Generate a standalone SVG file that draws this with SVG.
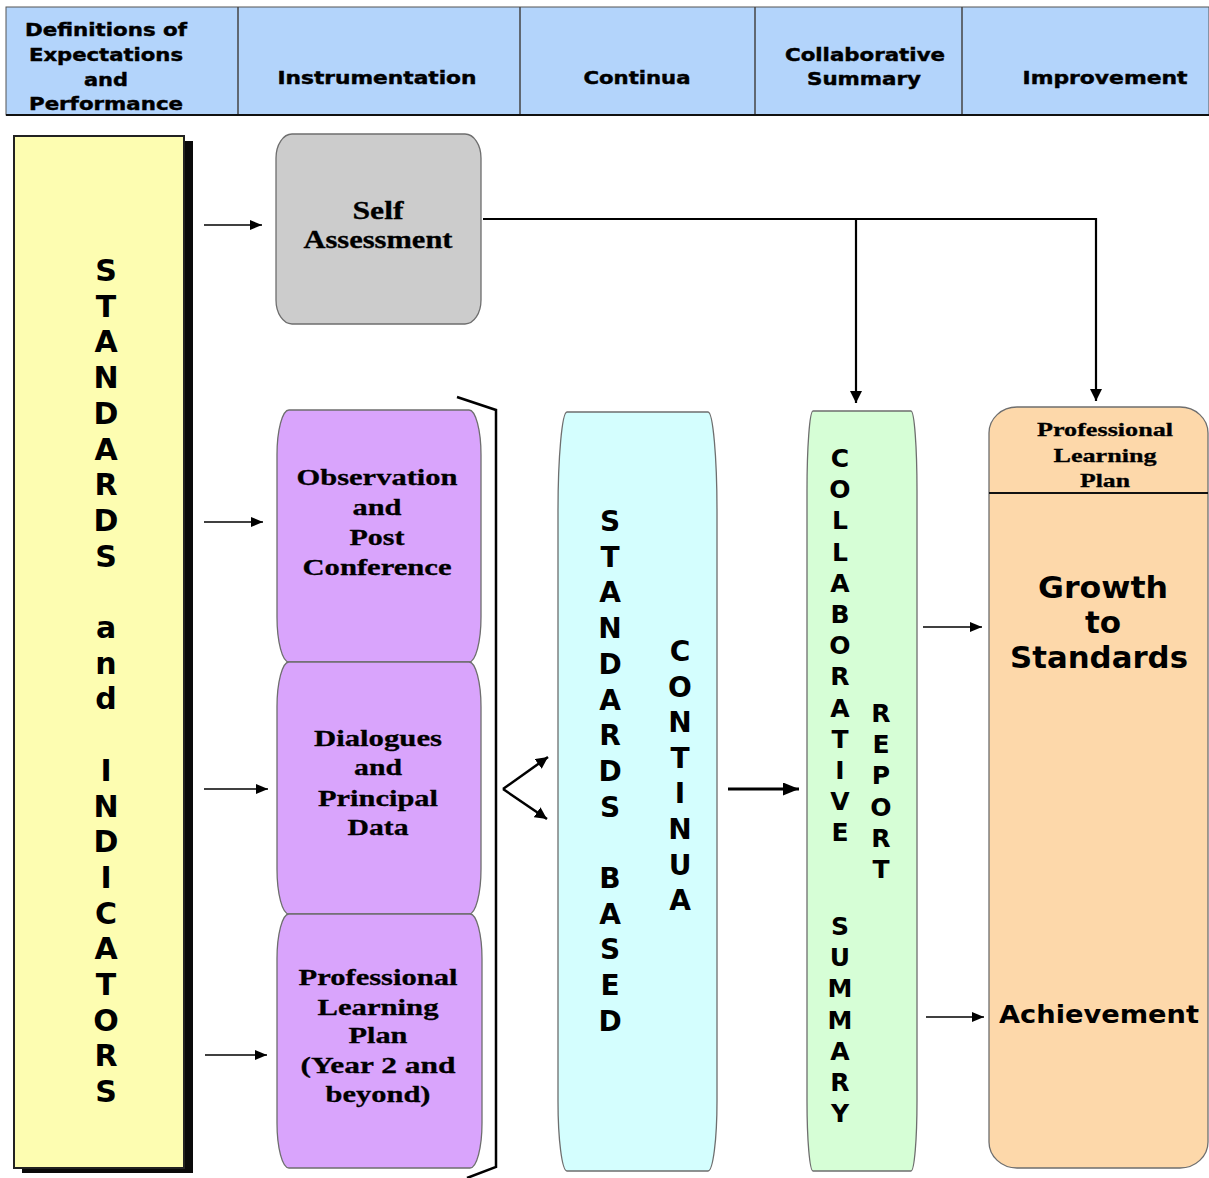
<svg xmlns="http://www.w3.org/2000/svg" width="1209" height="1178" viewBox="0 0 1209 1178">
<style>
.hd{font-family:"DejaVu Sans",Verdana,sans-serif;font-weight:bold;font-size:18px;fill:#000;text-anchor:middle;stroke:#000;stroke-width:0.45}
.sf{font-family:"Liberation Serif","Times New Roman",serif;font-weight:bold;fill:#000;text-anchor:middle;stroke:#000;stroke-width:0.3}
.vl{font-family:"DejaVu Sans",Verdana,sans-serif;font-weight:bold;fill:#000;text-anchor:middle}
.bx{stroke:#6e6e6e;stroke-width:1.3}
.ln{fill:none;stroke:#000}
</style>
<defs>
<marker id="ah" markerUnits="userSpaceOnUse" markerWidth="12" markerHeight="10" refX="12" refY="5" orient="auto"><path d="M0,0 L12,5 L0,10 z" fill="#000"/></marker>
<marker id="ahd" markerUnits="userSpaceOnUse" markerWidth="13" markerHeight="12" refX="12" refY="6" orient="auto"><path d="M0,0 L12,6 L0,12 z" fill="#000"/></marker>
<marker id="ahb" markerUnits="userSpaceOnUse" markerWidth="16" markerHeight="13" refX="16" refY="6.5" orient="auto"><path d="M0,0 L16,6.5 L0,13 z" fill="#000"/></marker>
</defs>

<g id="header">
<rect x="6" y="7" width="1203" height="108" fill="#b3d4fb" stroke="#555" stroke-width="1"/>
<line x1="238" y1="7" x2="238" y2="115" stroke="#444" stroke-width="1.5"/>
<line x1="520" y1="7" x2="520" y2="115" stroke="#444" stroke-width="1.5"/>
<line x1="755" y1="7" x2="755" y2="115" stroke="#444" stroke-width="1.5"/>
<line x1="962" y1="7" x2="962" y2="115" stroke="#444" stroke-width="1.5"/>
<line x1="6" y1="115" x2="1209" y2="115" stroke="#111" stroke-width="2"/>
<text class="hd" x="106" y="36" textLength="162" lengthAdjust="spacingAndGlyphs">Definitions of</text>
<text class="hd" x="106" y="61" textLength="154" lengthAdjust="spacingAndGlyphs">Expectations</text>
<text class="hd" x="106" y="86" textLength="44" lengthAdjust="spacingAndGlyphs">and</text>
<text class="hd" x="106" y="110" textLength="154" lengthAdjust="spacingAndGlyphs">Performance</text>
<text class="hd" x="377" y="84" textLength="199" lengthAdjust="spacingAndGlyphs">Instrumentation</text>
<text class="hd" x="637" y="84" textLength="107" lengthAdjust="spacingAndGlyphs">Continua</text>
<text class="hd" x="865" y="61" textLength="160" lengthAdjust="spacingAndGlyphs">Collaborative</text>
<text class="hd" x="864" y="85" textLength="114" lengthAdjust="spacingAndGlyphs">Summary</text>
<text class="hd" x="1105" y="84" textLength="165" lengthAdjust="spacingAndGlyphs">Improvement</text>
</g>

<g id="standards">
<rect x="22" y="141" width="171" height="1032" fill="#0a0a0a"/>
<rect x="14" y="136" width="170" height="1032" fill="#fdfdb1" stroke="#222" stroke-width="2"/>
<text class="vl" font-size="30"><tspan x="106" y="281">S</tspan><tspan x="106" y="316.7">T</tspan><tspan x="106" y="352.4">A</tspan><tspan x="106" y="388.1">N</tspan><tspan x="106" y="423.8">D</tspan><tspan x="106" y="459.5">A</tspan><tspan x="106" y="495.2">R</tspan><tspan x="106" y="530.9">D</tspan><tspan x="106" y="566.6">S</tspan><tspan x="106" y="638">a</tspan><tspan x="106" y="673.7">n</tspan><tspan x="106" y="709.4">d</tspan><tspan x="106" y="780.8">I</tspan><tspan x="106" y="816.5">N</tspan><tspan x="106" y="852.2">D</tspan><tspan x="106" y="887.9">I</tspan><tspan x="106" y="923.6">C</tspan><tspan x="106" y="959.3">A</tspan><tspan x="106" y="995">T</tspan><tspan x="106" y="1030.7">O</tspan><tspan x="106" y="1066.4">R</tspan><tspan x="106" y="1102.1">S</tspan></text>
</g>

<g id="self-assessment">
<rect class="bx" x="276" y="134" width="205" height="190" rx="16" ry="24" fill="#cccccc"/>
<text class="sf" font-size="26" x="378" y="219" textLength="51" lengthAdjust="spacingAndGlyphs">Self</text>
<text class="sf" font-size="26" x="378" y="248" textLength="149" lengthAdjust="spacingAndGlyphs">Assessment</text>
</g>

<g id="observation">
<rect class="bx" x="277" y="410" width="204" height="252" rx="12" ry="45" fill="#d9a4fc"/>
<text class="sf" font-size="24" x="377" y="485" textLength="161" lengthAdjust="spacingAndGlyphs">Observation</text>
<text class="sf" font-size="24" x="377" y="515" textLength="49" lengthAdjust="spacingAndGlyphs">and</text>
<text class="sf" font-size="24" x="377" y="545" textLength="55" lengthAdjust="spacingAndGlyphs">Post</text>
<text class="sf" font-size="24" x="377" y="575" textLength="149" lengthAdjust="spacingAndGlyphs">Conference</text>
</g>

<g id="dialogues">
<rect class="bx" x="277" y="662" width="204" height="252" rx="12" ry="45" fill="#d9a4fc"/>
<text class="sf" font-size="24" x="378" y="746" textLength="128" lengthAdjust="spacingAndGlyphs">Dialogues</text>
<text class="sf" font-size="24" x="378" y="775" textLength="48" lengthAdjust="spacingAndGlyphs">and</text>
<text class="sf" font-size="24" x="378" y="806" textLength="120" lengthAdjust="spacingAndGlyphs">Principal</text>
<text class="sf" font-size="24" x="378" y="835" textLength="61" lengthAdjust="spacingAndGlyphs">Data</text>
</g>

<g id="professional-learning">
<rect class="bx" x="277" y="914" width="205" height="254" rx="12" ry="45" fill="#d9a4fc"/>
<text class="sf" font-size="24" x="378" y="985" textLength="159" lengthAdjust="spacingAndGlyphs">Professional</text>
<text class="sf" font-size="24" x="378" y="1015" textLength="121" lengthAdjust="spacingAndGlyphs">Learning</text>
<text class="sf" font-size="24" x="378" y="1043" textLength="59" lengthAdjust="spacingAndGlyphs">Plan</text>
<text class="sf" font-size="24" x="378" y="1073" textLength="155" lengthAdjust="spacingAndGlyphs">(Year 2 and</text>
<text class="sf" font-size="24" x="378" y="1102" textLength="105" lengthAdjust="spacingAndGlyphs">beyond)</text>
</g>

<g id="continua">
<path class="bx" d="M567,412 H708 A9,100 0 0 1 717,512 V1101 A9,70 0 0 1 708,1171 H567 A9,70 0 0 1 558,1101 V512 A9,100 0 0 1 567,412 Z" fill="#d4fefe"/>
<text class="vl" font-size="28"><tspan x="610" y="531">S</tspan><tspan x="610" y="566.7">T</tspan><tspan x="610" y="602.4">A</tspan><tspan x="610" y="638.1">N</tspan><tspan x="610" y="673.8">D</tspan><tspan x="610" y="709.5">A</tspan><tspan x="610" y="745.2">R</tspan><tspan x="610" y="780.9">D</tspan><tspan x="610" y="816.6">S</tspan><tspan x="610" y="888">B</tspan><tspan x="610" y="923.7">A</tspan><tspan x="610" y="959.4">S</tspan><tspan x="610" y="995.1">E</tspan><tspan x="610" y="1030.8">D</tspan></text>
<text class="vl" font-size="28"><tspan x="680" y="661">C</tspan><tspan x="680" y="696.6">O</tspan><tspan x="680" y="732.2">N</tspan><tspan x="680" y="767.8">T</tspan><tspan x="680" y="803.4">I</tspan><tspan x="680" y="839">N</tspan><tspan x="680" y="874.6">U</tspan><tspan x="680" y="910.2">A</tspan></text>
</g>

<g id="collaborative-summary">
<path class="bx" d="M813,411 H911 A6,80 0 0 1 917,491 V1101 A6,70 0 0 1 911,1171 H813 A6,70 0 0 1 807,1101 V491 A6,80 0 0 1 813,411 Z" fill="#d6fed6"/>
<text class="vl" font-size="25"><tspan x="840" y="467">C</tspan><tspan x="840" y="498.2">O</tspan><tspan x="840" y="529.4">L</tspan><tspan x="840" y="560.6">L</tspan><tspan x="840" y="591.8">A</tspan><tspan x="840" y="623">B</tspan><tspan x="840" y="654.2">O</tspan><tspan x="840" y="685.4">R</tspan><tspan x="840" y="716.6">A</tspan><tspan x="840" y="747.8">T</tspan><tspan x="840" y="779">I</tspan><tspan x="840" y="810.2">V</tspan><tspan x="840" y="841.4">E</tspan><tspan x="840" y="935">S</tspan><tspan x="840" y="966.2">U</tspan><tspan x="840" y="997.4">M</tspan><tspan x="840" y="1028.6">M</tspan><tspan x="840" y="1059.8">A</tspan><tspan x="840" y="1091">R</tspan><tspan x="840" y="1122.2">Y</tspan></text>
<text class="vl" font-size="25"><tspan x="881" y="722">R</tspan><tspan x="881" y="753.2">E</tspan><tspan x="881" y="784.4">P</tspan><tspan x="881" y="815.6">O</tspan><tspan x="881" y="846.8">R</tspan><tspan x="881" y="878">T</tspan></text>
</g>

<g id="improvement">
<rect class="bx" x="989" y="407" width="219" height="761" rx="28" ry="26" fill="#fdd8aa"/>
<line x1="989" y1="493" x2="1208" y2="493" stroke="#111" stroke-width="2"/>
<text class="sf" font-size="19" x="1105" y="436" textLength="136" lengthAdjust="spacingAndGlyphs">Professional</text>
<text class="sf" font-size="19" x="1105" y="462" textLength="103" lengthAdjust="spacingAndGlyphs">Learning</text>
<text class="sf" font-size="19" x="1105" y="487" textLength="50" lengthAdjust="spacingAndGlyphs">Plan</text>
<text class="vl" font-size="31" x="1103" y="598" textLength="130" lengthAdjust="spacingAndGlyphs">Growth</text>
<text class="vl" font-size="31" x="1103" y="633">to</text>
<text class="vl" font-size="31" x="1099" y="668" textLength="178" lengthAdjust="spacingAndGlyphs">Standards</text>
<text class="vl" font-size="25" x="1099" y="1023" textLength="200" lengthAdjust="spacingAndGlyphs">Achievement</text>
</g>

<g id="connectors">
<line class="ln" x1="204" y1="225" x2="262" y2="225" stroke-width="1.6" marker-end="url(#ah)"/>
<line class="ln" x1="204" y1="522" x2="263" y2="522" stroke-width="1.6" marker-end="url(#ah)"/>
<line class="ln" x1="204" y1="789" x2="268" y2="789" stroke-width="1.6" marker-end="url(#ah)"/>
<line class="ln" x1="205" y1="1055" x2="267" y2="1055" stroke-width="1.6" marker-end="url(#ah)"/>
<polyline class="ln" points="483,219 1096,219 1096,401" stroke-width="2.2" marker-end="url(#ahd)"/>
<line class="ln" x1="856" y1="219" x2="856" y2="403" stroke-width="2.2" marker-end="url(#ahd)"/>
<polyline class="ln" points="457,397 496,410 496,1167 467,1178" stroke-width="2.5"/>
<line class="ln" x1="503" y1="789" x2="548" y2="757" stroke-width="2.5" marker-end="url(#ahd)"/>
<line class="ln" x1="503" y1="789" x2="547" y2="819" stroke-width="2.5" marker-end="url(#ahd)"/>
<line class="ln" x1="728" y1="789" x2="799" y2="789" stroke-width="3" marker-end="url(#ahb)"/>
<line class="ln" x1="923" y1="627" x2="982" y2="627" stroke-width="1.6" marker-end="url(#ah)"/>
<line class="ln" x1="926" y1="1017" x2="984" y2="1017" stroke-width="1.6" marker-end="url(#ah)"/>
</g>
</svg>
